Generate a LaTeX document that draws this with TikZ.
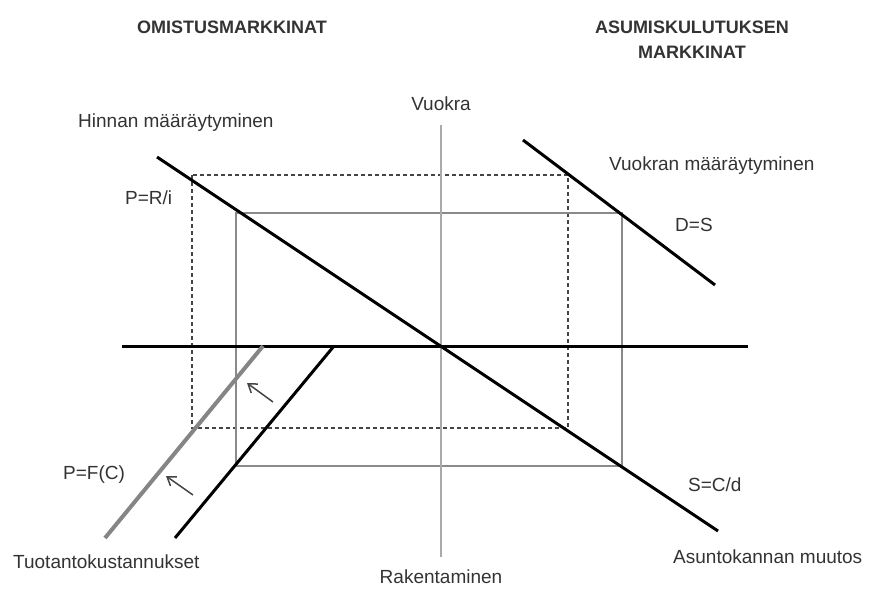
\documentclass[tikz,border=0pt]{standalone}
\usepackage{fontspec}
\setmainfont{Liberation Sans}
\usepackage{xcolor}
\usepackage{tikz}
\usetikzlibrary{arrows.meta,positioning}
\definecolor{txtgray}{HTML}{333333}
\definecolor{axisgray}{HTML}{AAAAAA}
\definecolor{rectgray}{HTML}{8A8A8A}
\definecolor{dashgray}{HTML}{444444}
\definecolor{costgray}{HTML}{858585}

\begin{document}
\begin{tikzpicture}[
  x=1pt, y=-1pt,
  lbl/.style     ={text=txtgray, inner sep=0pt, font=\fontsize{19}{23}\selectfont},
  head/.style    ={text=txtgray, inner sep=0pt, align=center, font=\fontsize{18}{25}\selectfont\bfseries},
  bigline/.style ={draw=black, line width=3pt},
  axisv/.style   ={draw=axisgray, line width=2pt},
  solidrect/.style={draw=rectgray, line width=2pt},
  dashrect/.style={draw=dashgray, line width=1.4pt, dash pattern=on 4pt off 3pt},
  shiftarr/.style={draw=dashgray, line width=1.5pt, -{Straight Barb[length=8pt,width=11pt]}},
]
  \useasboundingbox (0,0) rectangle (871,589);

  % otsikot
  \node[head] (own)  at (232,27) {OMISTUSMARKKINAT};
  \node[head] (cons) at (692,40) {ASUMISKULUTUKSEN\\MARKKINAT};

  % akselit
  \coordinate (vtop) at (441,125);
  \coordinate (vbot) at (441,557);
  \coordinate (hl)   at (122,346);
  \coordinate (hr)   at (748,346);
  \node[lbl] (rent)  at (441,104) {Vuokra};
  \node[lbl] (build) at (441,577) {Rakentaminen};

  % suorakaiteet
  \draw[dashrect]  (192,175) rectangle (568,428);
  \draw[solidrect] (236,213) rectangle (622,466);

  \draw[axisv] (vtop) -- (vbot);
  \draw[bigline] (hl) -- (hr);

  % käyrät
  \coordinate (p1) at (157,157);
  \coordinate (p2) at (718,531);
  \coordinate (r1) at (523,140);
  \coordinate (r2) at (715,285);
  \coordinate (c1) at (263,346);
  \coordinate (c2) at (105,538);
  \coordinate (b1) at (334,346);
  \coordinate (b2) at (175,538);
  \draw[bigline] (p1) -- (p2);
  \draw[bigline] (r1) -- (r2);
  \draw[draw=costgray, line width=4pt] (c1) -- (c2);
  \draw[bigline] (b1) -- (b2);

  % siirtymänuolet
  \coordinate (a1s) at (273,402);
  \coordinate (a1e) at (247,383);
  \coordinate (a2s) at (193,495);
  \coordinate (a2e) at (166,476);
  \draw[shiftarr] (a1s) -- (a1e);
  \draw[shiftarr] (a2s) -- (a2e);

  % tekstit
  \node[lbl, anchor=west] (price)  at (78,123)  {Hinnan määräytyminen};
  \node[lbl, anchor=west] (rentd)  at (609,166) {Vuokran määräytyminen};
  \node[lbl, anchor=west] (pri)    at (125,198) {P=R/i};
  \node[lbl, anchor=west] (ds)     at (675,225) {D=S};
  \node[lbl, anchor=west] (pfc)    at (63,475)  {P=F(C)};
  \node[lbl, anchor=west] (scd)    at (688,485) {S=C/d};
  \node[lbl, anchor=west] (costs)  at (13,562)  {Tuotantokustannukset};
  \node[lbl, anchor=west] (stock)  at (673,557) {Asuntokannan muutos};
\end{tikzpicture}
\end{document}
